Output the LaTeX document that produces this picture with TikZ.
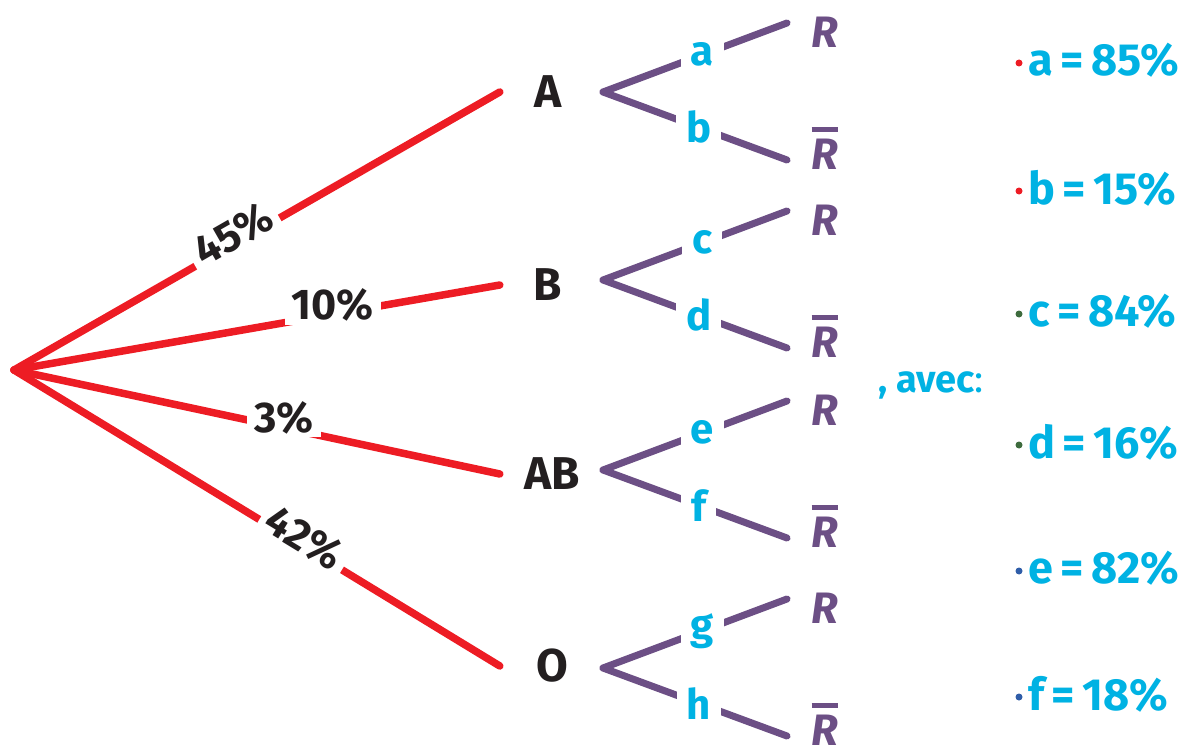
\documentclass[tikz,border=0pt]{standalone}
\usepackage{fontspec}
\setmainfont{Fira Sans}
\definecolor{tred}{HTML}{ED1C24}
\definecolor{tpurple}{HTML}{6C4F85}
\definecolor{tcyan}{HTML}{00B2E3}
\definecolor{tblack}{HTML}{231F20}
\definecolor{tgreen}{HTML}{3D6B3D}
\definecolor{tblue}{HTML}{2F5DA8}
\newcommand{\rbarlabel}{\vbox{\hrule height 4.5pt\kern 7pt\hbox{\itshape R}}}
\begin{document}
\begin{tikzpicture}[x=1pt,y=-1pt,
  redl/.style={tred, line width=7.5pt, line cap=round},
  purl/.style={tpurple, line width=7pt, line cap=round},
  cat/.style={font=\fontsize{46}{46}\selectfont\bfseries, text=tblack, minimum height=64pt, inner sep=0pt},
  pct/.style={font=\fontsize{43}{43}\selectfont\bfseries, text=tblack, fill=white, inner xsep=7pt, inner ysep=3pt},
  blab/.style={font=\fontsize{42}{42}\selectfont\bfseries, text=tcyan, fill=white, inner xsep=10pt, inner ysep=2pt},
  rlab/.style={font=\fontsize{44}{44}\selectfont\bfseries\itshape, text=tpurple, inner sep=0pt},
  val/.style={font=\fontsize{45}{45}\selectfont\bfseries, text=tcyan, anchor=west, inner sep=0pt},
  ldot/.style={circle, minimum size=7pt, inner sep=0pt},
]
\useasboundingbox (0,0) rectangle (1194,749);
\coordinate (root) at (14,370);
% category nodes
\node[cat, minimum width=96pt] (A) at (548,92) {A};
\node[cat, minimum width=96pt] (B) at (548,285) {B};
\node[cat, minimum width=104pt] (AB) at (552,474) {AB};
\node[cat, minimum width=104pt] (O) at (552,666) {O};
% red branches
\draw[redl] (root) -- node[pct, pos=0.46, sloped, yshift=9pt] (pA) {45\%} (A.west);
\draw[redl] (root) -- node[pct, pos=0.656, yshift=9pt] (pB) {10\%} (B.west);
\draw[redl] (root) -- node[pct, pos=0.556, yshift=10pt] (pAB) {3\%} (AB.west);
\draw[redl] (root) -- node[pct, pos=0.59, sloped, yshift=8pt] (pO) {42\%} (O.west);
% purple sub-branches
\foreach \n/\y/\u/\d in {A/92/a/b, B/280/c/d, AB/470/e/f, O/668/g/h}{
  \coordinate (\n v) at (603,\y);
  \coordinate (\n up) at (787,\y-69);
  \coordinate (\n dn) at (787,\y+68);
  \draw[purl] (\n v) -- node[blab, pos=0.54] (\n lu) {\u} (\n up);
  \draw[purl] (\n v) -- node[blab, pos=0.52] (\n ld) {\d} (\n dn);
  \node[rlab] (\n R) at (825,\y-60) {R};
  \node[rlab, anchor=base] (\n Rb) at (825,\y+77) {\rbarlabel};
}
% avec
\node[font=\fontsize{38}{38}\selectfont\bfseries, text=tcyan, anchor=base west, inner sep=0pt] (avec) at (878,392) {, avec\textmd{:}};
% values list
\foreach \c/\t/\y/\col in {a/85/60/tred, b/15/188/tred, c/84/311/tgreen, d/16/442/tgreen, e/82/568/tblue, f/18/694/tblue}{
  \node[ldot, fill=\col] (dot\c) at (1019,\y+3) {};
  \node[val] (val\c) at (1028,\y) {\c\,=\,\t\%};
}
\end{tikzpicture}
\end{document}
